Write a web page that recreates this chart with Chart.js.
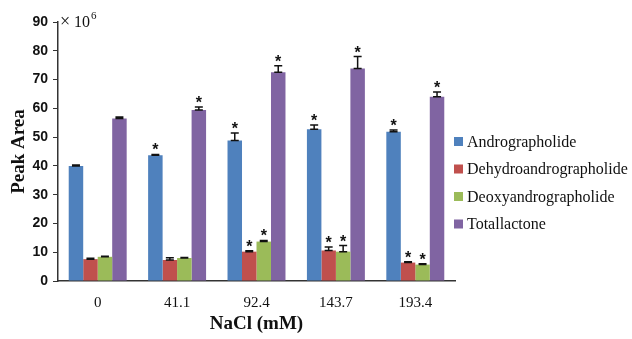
<!DOCTYPE html>
<html>
<head>
<meta charset="utf-8">
<script src="https://cdn.jsdelivr.net/npm/chart.js@4/dist/chart.umd.min.js"></script>
<style>
  html, body { margin: 0; padding: 0; background: #fff; }
  #wrap { width: 632px; height: 339px; position: relative; }
</style>
</head>
<body>
<div id="wrap"><canvas id="c" width="632" height="339"></canvas></div>
<script>
// NaCl concentrations (mM)
const categories = ['0', '41.1', '92.4', '143.7', '193.4'];
const yTicks = [0, 10, 20, 30, 40, 50, 60, 70, 80, 90];

// Peak area (x10^6)
const andrographolide        = [40.0, 43.7, 48.8, 52.7, 51.9];
const dehydroandrographolide = [7.6, 7.3, 10.2, 10.6, 6.4];
const deoxyandrographolide   = [8.4, 8.0, 13.7, 10.2, 5.7];
const totalLactone           = [56.5, 59.4, 72.5, 73.8, 64.0];

// Error bar heights (x10^6)
const errAndro   = [0.3, 0.3, 2.6, 1.5, 0.6];
const errDehydro = [0.3, 0.8, 0.3, 1.2, 0.3];
const errDeoxy   = [0.2, 0.2, 0.4, 2.1, 0.3];
const errTotal   = [0.5, 1.1, 2.3, 4.2, 1.7];

// Significance markers
const sigAndro   = [false, true, true, true, true];
const sigDehydro = [false, false, true, true, true];
const sigDeoxy   = [false, false, true, true, true];
const sigTotal   = [false, true, true, true, true];

const seriesLabels = ['Andrographolide', 'Dehydroandrographolide', 'Deoxyandrographolide', 'Totallactone'];
const colors = ['#4F81BD', '#C0504D', '#9BBB59', '#8064A2'];

const SERIF = '"Liberation Serif", "Times New Roman", serif';
const SANS = '"Liberation Sans", Arial, sans-serif';

const datasets = [
  { label: seriesLabels[0], data: andrographolide, err: errAndro, sig: sigAndro },
  { label: seriesLabels[1], data: dehydroandrographolide, err: errDehydro, sig: sigDehydro },
  { label: seriesLabels[2], data: deoxyandrographolide, err: errDeoxy, sig: sigDeoxy },
  { label: seriesLabels[3], data: totalLactone, err: errTotal, sig: sigTotal }
].map((d, i) => Object.assign(d, {
  backgroundColor: colors[i],
  borderWidth: 0,
  categoryPercentage: 0.73,
  barPercentage: 1.0
}));

// Error bars and asterisks above each bar
const errorBars = {
  id: 'errorBars',
  afterDatasetsDraw(chart) {
    const ctx = chart.ctx;
    const y = chart.scales.y;
    ctx.save();
    chart.data.datasets.forEach((ds, di) => {
      const meta = chart.getDatasetMeta(di);
      meta.data.forEach((bar, i) => {
        const v = ds.data[i];
        const top = y.getPixelForValue(v + ds.err[i]);
        const base = y.getPixelForValue(v);
        const x = bar.x;
        ctx.strokeStyle = '#111';
        ctx.lineWidth = 1.5;
        ctx.beginPath();
        ctx.moveTo(x, base); ctx.lineTo(x, top);
        ctx.moveTo(x - 4, top); ctx.lineTo(x + 4, top);
        ctx.moveTo(x - 4, base); ctx.lineTo(x + 4, base);
        ctx.stroke();
        if (ds.sig[i]) {
          ctx.fillStyle = '#111';
          ctx.font = 'bold 16px ' + SANS;
          ctx.textAlign = 'center';
          ctx.textBaseline = 'alphabetic';
          ctx.fillText('*', x, top + 1);
        }
      });
    });
    ctx.restore();
  }
};

// Legend at right and the x10^6 multiplier
const extras = {
  id: 'extras',
  afterDraw(chart) {
    const ctx = chart.ctx;
    ctx.save();
    const rows = [141.5, 169, 196.5, 224];
    chart.data.datasets.forEach((ds, i) => {
      ctx.fillStyle = ds.backgroundColor;
      ctx.fillRect(454, rows[i] - 4.5, 9, 9);
      ctx.fillStyle = '#111';
      ctx.font = '16px ' + SERIF;
      ctx.textAlign = 'left';
      ctx.textBaseline = 'middle';
      ctx.fillText(ds.label, 467, rows[i] + 1);
    });
    ctx.fillStyle = '#111';
    ctx.textAlign = 'left';
    ctx.textBaseline = 'alphabetic';
    ctx.font = '18px ' + SERIF;
    ctx.fillText('\u00D7', 60, 27);
    ctx.font = '16px ' + SERIF;
    ctx.fillText('10', 74, 27);
    ctx.font = '11px ' + SERIF;
    ctx.fillText('6', 91, 19);
    ctx.restore();
  }
};

new Chart(document.getElementById('c'), {
  type: 'bar',
  data: { labels: categories, datasets },
  options: {
    responsive: false,
    animation: false,
    events: [],
    layout: { padding: { top: 22, right: 177, left: 8, bottom: 0 } },
    plugins: { legend: { display: false }, tooltip: { enabled: false } },
    scales: {
      x: {
        grid: { display: false, drawTicks: false },
        border: { display: true, color: '#333', width: 1.5 },
        ticks: { color: '#111', font: { family: SERIF, size: 15 }, padding: 13 },
        title: { display: true, text: 'NaCl (mM)', color: '#111',
                 font: { family: SERIF, size: 19, weight: 'bold' }, padding: { top: 2 } },
        afterFit(s) { s.height = 58; }
      },
      y: {
        min: 0, max: 90,
        afterBuildTicks(s) { s.ticks = yTicks.map(v => ({ value: v })); },
        grid: { drawOnChartArea: false, drawTicks: true, tickLength: 5, color: '#333', lineWidth: 1 },
        border: { display: true, color: '#333', width: 1.5 },
        ticks: { color: '#111', font: { family: SANS, size: 14, weight: 'bold' }, padding: 5 },
        title: { display: true, text: 'Peak Area', color: '#111',
                 font: { family: SERIF, size: 19, weight: 'bold' }, padding: 0 },
        afterFit(s) { s.width = 50; }
      }
    }
  },
  plugins: [errorBars, extras]
});
</script>
</body>
</html>
